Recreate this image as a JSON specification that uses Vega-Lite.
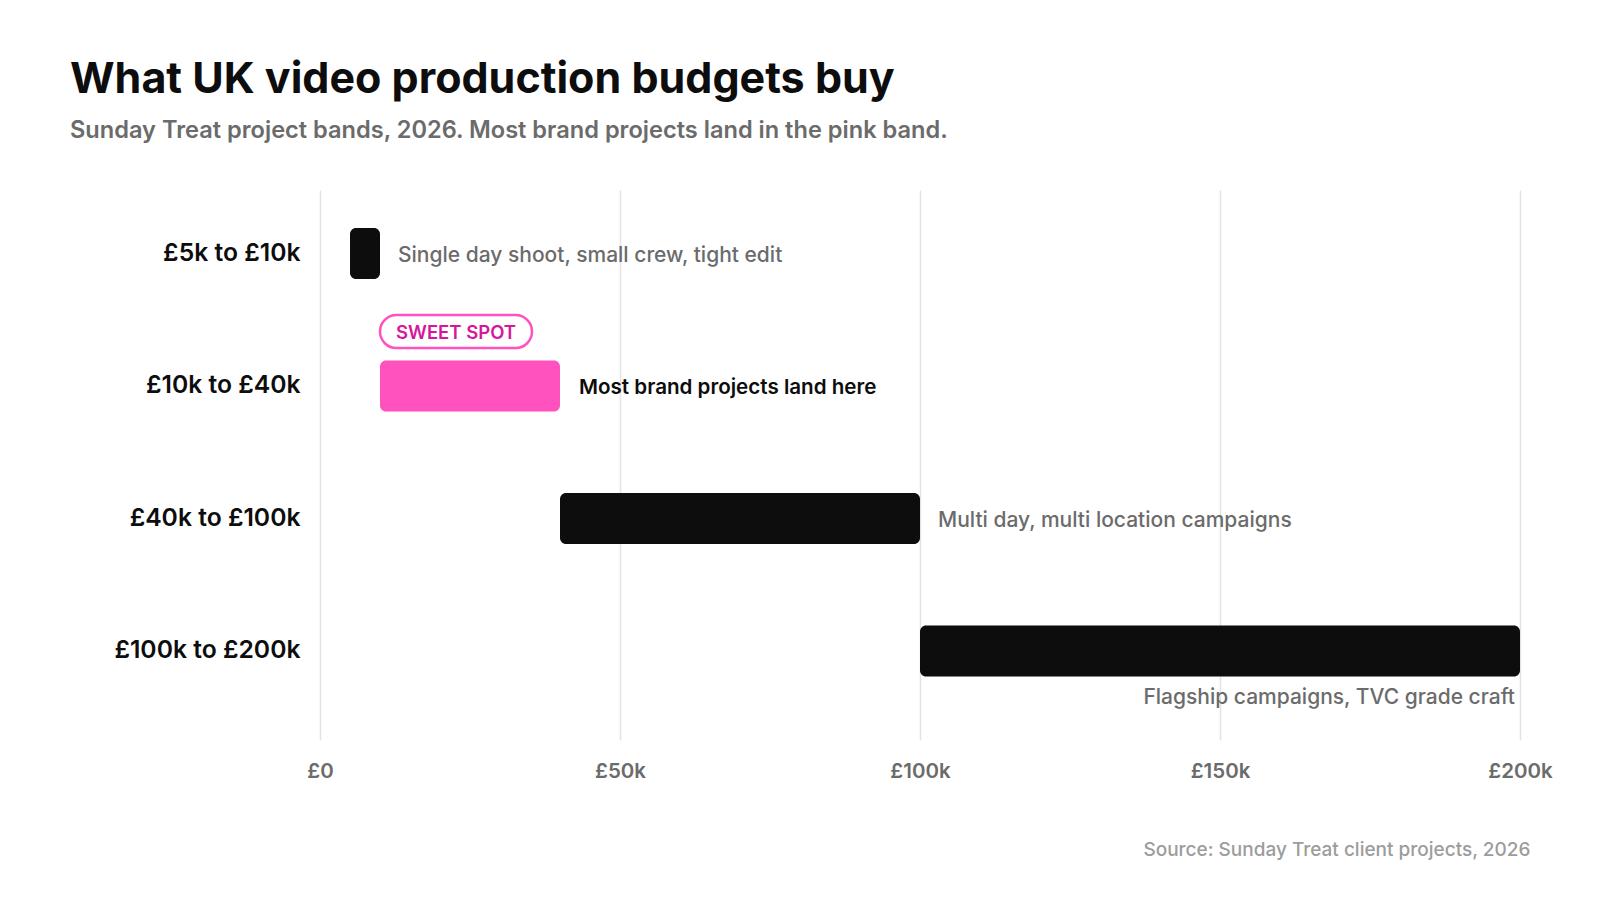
{
  "$schema": "https://vega.github.io/schema/vega-lite/v6.json",
  "width": 1200,
  "height": 550,
  "autosize": {"type": "none"},
  "padding": {"left": 320, "top": 190, "right": 80, "bottom": 160},
  "background": "#ffffff",
  "title": {
    "text": "What UK video production budgets buy",
    "subtitle": "Sunday Treat project bands, 2026. Most brand projects land in the pink band.",
    "anchor": "start",
    "frame": "group",
    "dx": -250,
    "offset": 47,
    "font": "Inter",
    "fontSize": 43,
    "fontWeight": 700,
    "color": "#0d0d0d",
    "subtitleFont": "Inter",
    "subtitleFontSize": 23.6,
    "subtitleFontWeight": 600,
    "subtitleColor": "#6b6b6b",
    "subtitlePadding": 17
  },
  "data": {
    "values": [
      {"band": "£5k to £10k", "order": 1, "start": 5000, "end": 10000, "note": "Single day shoot, small crew, tight edit", "highlight": "no", "notePos": "right"},
      {"band": "£10k to £40k", "order": 2, "start": 10000, "end": 40000, "note": "Most brand projects land here", "highlight": "yes", "notePos": "right"},
      {"band": "£40k to £100k", "order": 3, "start": 40000, "end": 100000, "note": "Multi day, multi location campaigns", "highlight": "no", "notePos": "right"},
      {"band": "£100k to £200k", "order": 4, "start": 100000, "end": 200000, "note": "Flagship campaigns, TVC grade craft", "highlight": "no", "notePos": "below"}
    ]
  },
  "encoding": {
    "y": {
      "field": "band",
      "type": "nominal",
      "sort": {"field": "order", "op": "min"},
      "scale": {"paddingInner": 0.04, "paddingOuter": 0.0955, "align": 0},
      "axis": {
        "title": null,
        "domain": false,
        "ticks": false,
        "grid": false,
        "labelFont": "Inter",
        "labelFontSize": 24.7,
        "labelFontWeight": 600,
        "labelColor": "#0d0d0d",
        "labelPadding": 20,
        "labelLimit": 400
      }
    }
  },
  "layer": [
    {
      "mark": {"type": "bar", "size": 51, "cornerRadius": 6},
      "encoding": {
        "x": {
          "field": "start",
          "type": "quantitative",
          "scale": {"domain": [0, 200000], "nice": false, "zero": true},
          "axis": {
            "values": [0, 50000, 100000, 150000, 200000],
            "labelExpr": "datum.value == 0 ? '£0' : '£' + (datum.value / 1000) + 'k'",
            "domain": false,
            "ticks": false,
            "grid": true,
            "gridColor": "#e3e3e3",
            "gridWidth": 1.5,
            "labelFlush": false,
            "labelFont": "Inter",
            "labelFontSize": 20.5,
            "labelFontWeight": 600,
            "labelColor": "#6b6b6b",
            "labelPadding": 21,
            "title": "Source: Sunday Treat client projects, 2026",
            "titleFont": "Inter",
            "titleFontSize": 19,
            "titleFontWeight": 500,
            "titleColor": "#9c9c9c",
            "titleAnchor": "end",
            "titleAlign": "right",
            "titleX": 1210,
            "titlePadding": 59
          }
        },
        "x2": {"field": "end"},
        "color": {
          "field": "highlight",
          "type": "nominal",
          "scale": {"domain": ["no", "yes"], "range": ["#0d0d0d", "#ff52be"]},
          "legend": null
        }
      }
    },
    {
      "transform": [{"filter": "datum.highlight == 'yes'"}],
      "mark": {
        "type": "point",
        "shape": "M -0.783 -0.217 L 0.783 -0.217 A 0.217 0.217 0 0 1 0.783 0.217 L -0.783 0.217 A 0.217 0.217 0 0 1 -0.783 -0.217 Z",
        "size": 23104,
        "filled": false,
        "fill": "#ffffff",
        "fillOpacity": 1,
        "stroke": "#ff52be",
        "strokeWidth": 2.5,
        "opacity": 1,
        "xOffset": 76,
        "yOffset": -54.5
      },
      "encoding": {
        "x": {"field": "start", "type": "quantitative"}
      }
    },
    {
      "transform": [{"filter": "datum.highlight == 'yes'"}],
      "mark": {
        "type": "text",
        "align": "center",
        "baseline": "middle",
        "dx": 76,
        "dy": -53.5,
        "font": "Inter",
        "fontSize": 18.5,
        "fontWeight": 600,
        "color": "#d6179c"
      },
      "encoding": {
        "x": {"field": "start", "type": "quantitative"},
        "text": {"value": "SWEET SPOT"}
      }
    },
    {
      "transform": [{"filter": "datum.notePos == 'right' && datum.highlight == 'no'"}],
      "mark": {
        "type": "text",
        "align": "left",
        "baseline": "middle",
        "dx": 18,
        "dy": 2,
        "font": "Inter",
        "fontSize": 21,
        "fontWeight": 500,
        "color": "#6b6b6b"
      },
      "encoding": {
        "x": {"field": "end", "type": "quantitative"},
        "text": {"field": "note"}
      }
    },
    {
      "transform": [{"filter": "datum.highlight == 'yes'"}],
      "mark": {
        "type": "text",
        "align": "left",
        "baseline": "middle",
        "dx": 19,
        "dy": 2,
        "font": "Inter",
        "fontSize": 20.6,
        "fontWeight": 600,
        "color": "#0d0d0d"
      },
      "encoding": {
        "x": {"field": "end", "type": "quantitative"},
        "text": {"field": "note"}
      }
    },
    {
      "transform": [{"filter": "datum.notePos == 'below'"}],
      "mark": {
        "type": "text",
        "align": "right",
        "baseline": "middle",
        "dx": -5,
        "dy": 47,
        "font": "Inter",
        "fontSize": 21,
        "fontWeight": 500,
        "color": "#6b6b6b"
      },
      "encoding": {
        "x": {"field": "end", "type": "quantitative"},
        "text": {"field": "note"}
      }
    }
  ],
  "config": {
    "view": {"stroke": null},
    "font": "Inter"
  }
}
